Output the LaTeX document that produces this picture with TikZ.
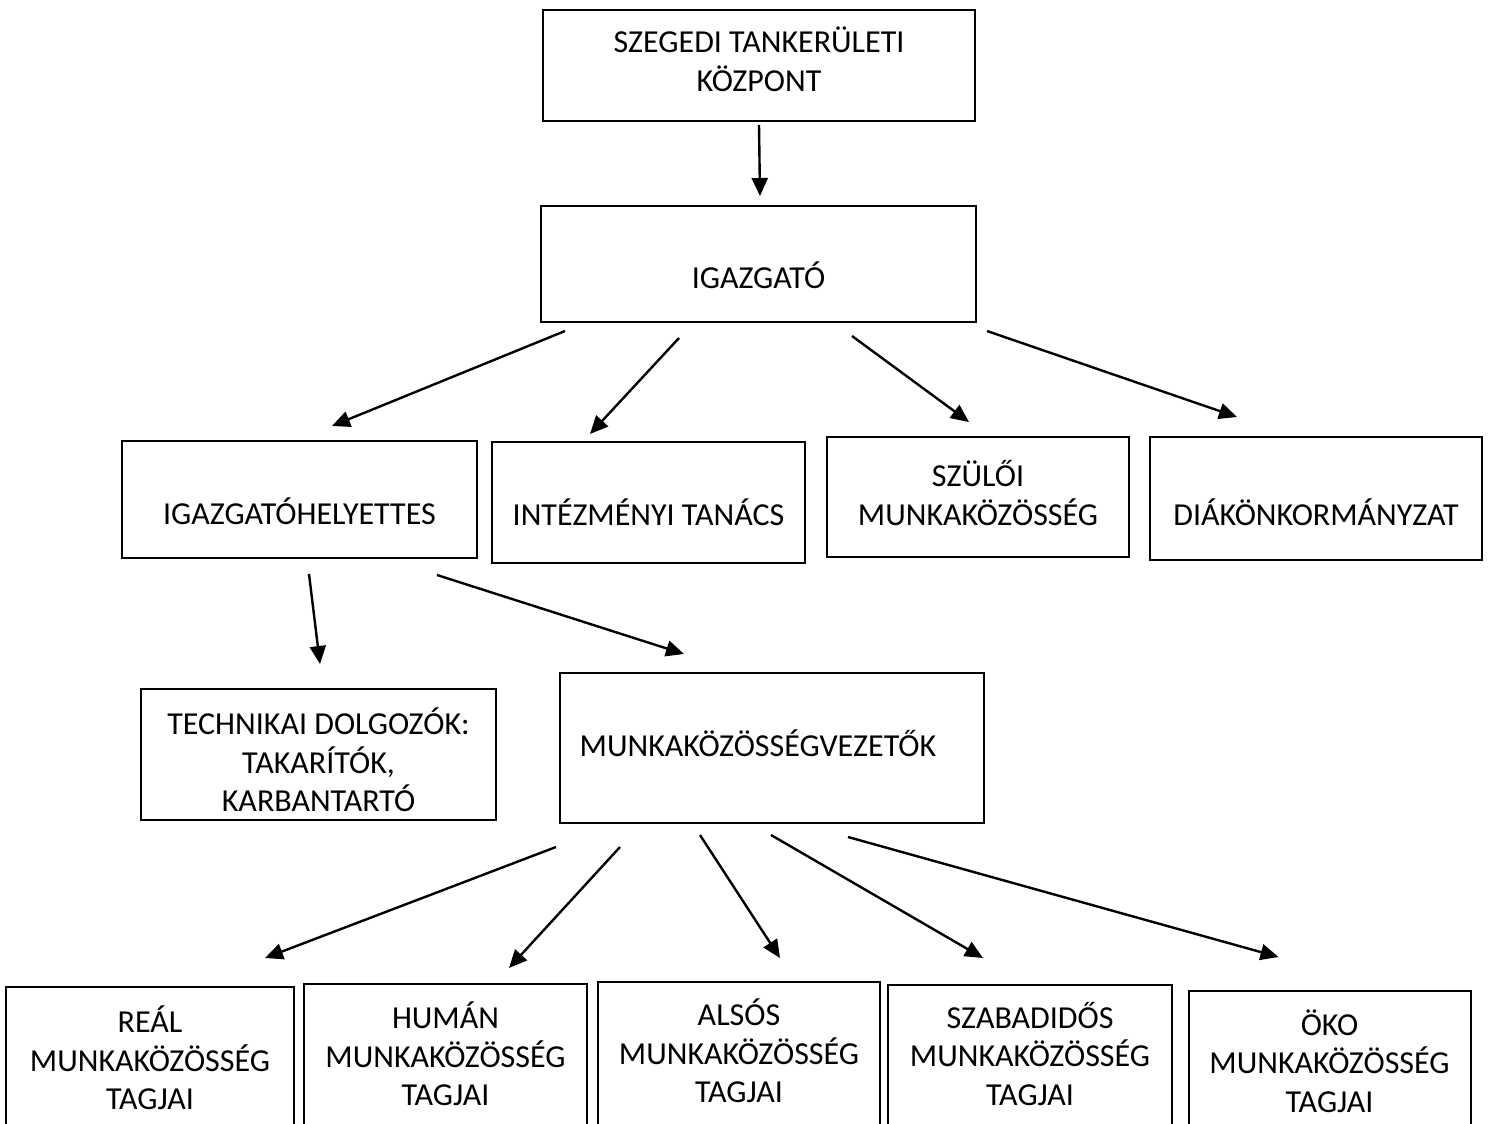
\documentclass[tikz,border=0pt]{standalone}
\usepackage{fontspec}
\setmainfont{Carlito}
\usetikzlibrary{arrows.meta}
\tikzset{
  >={Triangle[length=9pt,width=8pt]},
  box/.style={draw,line width=1pt,inner sep=0pt,align=center,
    font=\fontsize{16}{19.25}\selectfont},
  boxtext/.style={align=center,inner sep=0pt,font=\fontsize{16}{19.25}\selectfont},
  link/.style={->,line width=1.2pt},
}

\begin{document}
\begin{tikzpicture}[x=0.5pt,y=-0.5pt]
    \clip (0,0) rectangle (1495,1124);
    % upper levels
    \node[box,minimum width=216pt,minimum height=55.5pt,
      label={[boxtext,yshift=3pt]center:{SZEGEDI TANKERÜLETI\\KÖZPONT}}] (tkk) at (759,65.5) {};
    \node[box,minimum width=217.5pt,minimum height=58pt,
      label={[boxtext,yshift=-5.5pt]center:IGAZGATÓ}] (igazgato) at (758.5,264) {};
    \node[box,minimum width=177.5pt,minimum height=58.5pt,
      label={[boxtext,yshift=-6pt]center:IGAZGATÓHELYETTES}] (ighely) at (299.5,499.5) {};
    \node[box,minimum width=156.5pt,minimum height=60.5pt,
      label={[boxtext,yshift=-4.75pt]center:INTÉZMÉNYI TANÁCS}] (intez) at (648.5,502.5) {};
    \node[box,minimum width=151pt,minimum height=60pt,
      label={[boxtext,yshift=2pt]center:{SZÜLŐI\\MUNKAKÖZÖSSÉG}}] (szuloi) at (978,497) {};
    \node[box,minimum width=166pt,minimum height=61.5pt,
      label={[boxtext,yshift=-6.75pt]center:DIÁKÖNKORMÁNYZAT}] (diak) at (1316,498.5) {};
    \node[box,minimum width=177.5pt,minimum height=65.5pt,
      label={[boxtext,yshift=-2.75pt]center:{TECHNIKAI DOLGOZÓK:\\TAKARÍTÓK,\\KARBANTARTÓ}}] (techn) at (318.5,754.5) {};
    \node[box,minimum width=212pt,minimum height=75pt,
      label={[boxtext,xshift=-7pt,yshift=2.25pt]center:MUNKAKÖZÖSSÉGVEZETŐK}] (mkvez) at (772,748) {};
    % bottom row, cut off by the page edge
    \foreach \n/\x/\ty/\tc/\w/\t in {
      real/150/986/1057/144/REÁL,
      human/445.5/983/1053/141.5/HUMÁN,
      alsos/739/981/1050/141/ALSÓS,
      szabad/1030/984/1053/142/SZABADIDŐS,
      oko/1329.5/990/1060/141/ÖKO}
    {
      \node[box,anchor=north,minimum width=\w pt,minimum height=100pt,
        label={[boxtext,yshift={(\ty+100-\tc)*0.5}]center:{\t\\MUNKAKÖZÖSSÉG\\TAGJAI}}] (\n) at (\x,\ty) {};
    }
    % arrows
    \draw[link] ([shift={(0,3)}]tkk.south) -- ([shift={(1.5,-9)}]igazgato.north);
    \draw[link] ([shift={(-193.5,8)}]igazgato.south) -- ([shift={(32.5,-14)}]ighely.north);
    \draw[link] ([shift={(-79.5,15)}]igazgato.south) -- ([shift={(-58.5,-7)}]intez.north);
    \draw[link] ([shift={(93.5,13)}]igazgato.south) -- ([shift={(-9,-14)}]szuloi.north);
    \draw[link] ([shift={(228.5,8)}]igazgato.south) -- ([shift={(-79,-19)}]diak.north);
    \draw[link] ([shift={(9.5,15)}]ighely.south) -- ([shift={(1.5,-24)}]techn.north);
    \draw[link] ([shift={(137.5,16)}]ighely.south) -- ([shift={(-88,-18)}]mkvez.north);
    \draw[link] ([shift={(-216,23)}]mkvez.south) -- ([shift={(115,-28)}]real.north);
    \draw[link] ([shift={(-152,23)}]mkvez.south) -- ([shift={(63.5,-15)}]human.north);
    \draw[link] ([shift={(-72,11)}]mkvez.south) -- ([shift={(41,-23)}]alsos.north);
    \draw[link] ([shift={(-1,11)}]mkvez.south) -- ([shift={(-47,-26)}]szabad.north);
    \draw[link] ([shift={(76,13)}]mkvez.south) -- ([shift={(-51,-33)}]oko.north);
\end{tikzpicture}
\end{document}
